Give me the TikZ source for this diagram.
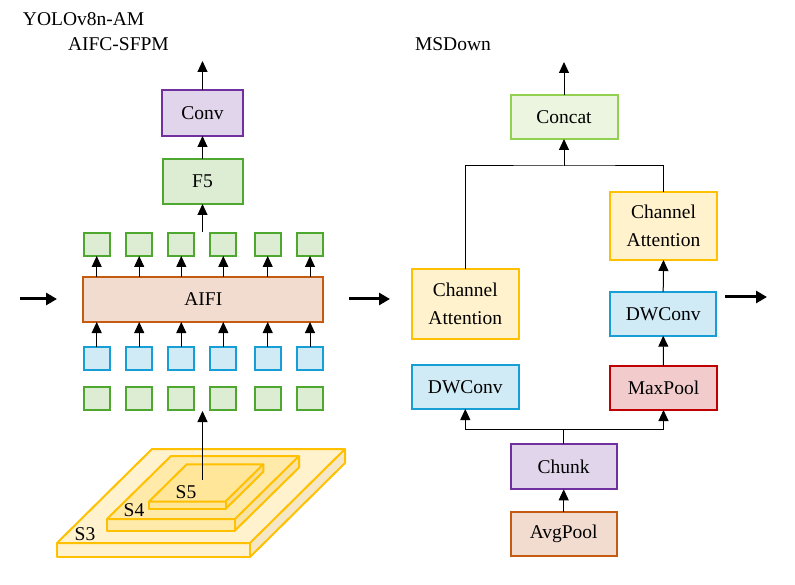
\documentclass[tikz,border=0pt]{standalone}
\usepackage{fontspec}
\setmainfont{Liberation Serif}
\usetikzlibrary{arrows.meta}
\definecolor{grnB}{HTML}{4EA72E}\definecolor{grnF}{HTML}{DCEDD4}
\definecolor{bluB}{HTML}{169FD7}\definecolor{bluF}{HTML}{D0EBF6}
\definecolor{orgB}{HTML}{C55A11}\definecolor{orgF}{HTML}{F2DCD0}
\definecolor{purB}{HTML}{7030A0}\definecolor{purF}{HTML}{E1D5EB}
\definecolor{yelB}{HTML}{FFC000}\definecolor{yelF}{HTML}{FFF2CC}
\definecolor{redB}{HTML}{C00000}\definecolor{redF}{HTML}{F2CCCC}
\definecolor{lgB}{HTML}{92D050}\definecolor{lgF}{HTML}{EBF5DF}
\definecolor{s3side}{HTML}{F5E7C6}
\definecolor{s4top}{HTML}{FFEAAA}\definecolor{s4side}{HTML}{F8E2A4}
\definecolor{s5top}{HTML}{FFE699}\definecolor{s5side}{HTML}{F8DE94}
\begin{document}
\begin{tikzpicture}[x=1pt,y=-1pt,
  every node/.style={font=\fontsize{19.5}{28}\selectfont, inner sep=0pt, outer sep=0pt},
  blk/.style={draw, line width=2pt, minimum width=106pt, minimum height=44pt, align=center},
  sqg/.style={draw=grnB, fill=grnF, line width=2pt, minimum width=26pt, minimum height=23pt},
  sqb/.style={draw=bluB, fill=bluF, line width=2pt, minimum width=26pt, minimum height=23pt},
  arr/.style={line width=1pt, -{Triangle[width=10pt,length=11pt]}},
  thk/.style={line width=3pt, -{Triangle[width=12pt,length=11pt]}},
  plate/.style={draw=yelB, line width=2pt, line join=round},
  lnk/.style={line width=1pt}]
\useasboundingbox (0,0) rectangle (795,585);
% titles
\node[anchor=west] (t1) at (23,19.5) {YOLOv8n-AM};
\node[anchor=west] (t2) at (68,44) {AIFC-SFPM};
\node[anchor=west] (t3) at (415,44) {MSDown};
% left column
\node[blk, draw=purB, fill=purF, minimum width=81pt, minimum height=46pt] (conv) at (202.5,113) {Conv};
\node[blk, draw=grnB, fill=grnF, minimum width=80pt, minimum height=45pt] (f5) at (202.5,181.5) {F5};
\node[blk, draw=orgB, fill=orgF, minimum width=240pt, minimum height=45pt] (aifi) at (203.3,299.5) {AIFI};
\foreach \i/\x in {1/96.7,2/139.2,3/181.3,4/223.3,5/267.7,6/310}{
  \node[sqg] (gt\i) at (\x,244.5) {};
  \node[sqb] (b\i) at (\x,358) {};
  \node[sqg] (gb\i) at (\x,398.5) {};
  \draw[arr] (aifi.north -| gt\i) -- (gt\i.south);
  \draw[arr] (b\i.north) -- (b\i.north |- aifi.south);
}
\coordinate (ctop1) at (202.5,61);
\coordinate (sqtop) at (202.5,232);
\draw[arr] (conv.north) -- (ctop1);
\draw[arr] (f5.north) -- (conv.south);
\draw[arr] (sqtop) -- (f5.south);
\coordinate (inA) at (20,299);\coordinate (inB) at (57,299);
\coordinate (outA) at (349,299);\coordinate (outB) at (390,299);
\draw[thk] (inA) -- (inB);
\draw[thk] (outA) -- (outB);
% stack
\fill[yelF] (57,543) -- (250,543) -- (345,449) -- (152,449) -- cycle;
\fill[yelF] (57,543) rectangle (250,557);
\fill[s3side] (250,543) -- (345,449) -- (345,463) -- (250,557) -- cycle;
\draw[plate] (57,543) -- (250,543) -- (345,449) -- (152,449) -- cycle;
\draw[plate] (57,543) -- (57,557) -- (250,557) -- (250,543);
\draw[plate] (250,557) -- (345,463) -- (345,449);
\fill[s4top] (107,519) -- (235,519) -- (299,456) -- (171,456) -- cycle;
\fill[s4top] (107,519) rectangle (235,530.5);
\fill[s4side] (235,519) -- (299,456) -- (299,467.5) -- (235,530.5) -- cycle;
\draw[plate] (107,519) -- (235,519) -- (299,456) -- (171,456) -- cycle;
\draw[plate] (107,519) -- (107,530.5) -- (235,530.5) -- (235,519);
\draw[plate] (235,530.5) -- (299,467.5) -- (299,456);
\fill[s5top] (149,501.5) -- (225.5,501.5) -- (263.3,464.3) -- (186.7,464.3) -- cycle;
\fill[s5top] (149,501.5) rectangle (225.5,509);
\fill[s5side] (225.5,501.5) -- (263.3,464.3) -- (263.3,471.8) -- (225.5,509) -- cycle;
\draw[plate] (149,501.5) -- (225.5,501.5) -- (263.3,464.3) -- (186.7,464.3) -- cycle;
\draw[plate] (149,501.5) -- (149,509) -- (225.5,509) -- (225.5,501.5);
\draw[plate] (225.5,509) -- (263.3,471.8) -- (263.3,464.3);
\node (s3) at (85,534) {S3};
\node (s4) at (134,510) {S4};
\node (s5) at (186,492.5) {S5};
\coordinate (stk) at (202.5,480);
\coordinate (sqbot) at (202.5,411);
\draw[arr] (stk) -- (sqbot);
% right column
\node[blk, draw=lgB, fill=lgF, minimum width=107pt, minimum height=44pt] (concat) at (564,117) {Concat};
\node[blk, draw=yelB, fill=yelF, minimum width=107pt, minimum height=70pt] (cal) at (465.3,304) {\raisebox{-2pt}{\parbox{100pt}{\centering Channel\\Attention}}};
\node[blk, draw=yelB, fill=yelF, minimum width=107pt, minimum height=68pt] (car) at (663.5,226) {\raisebox{-2pt}{\parbox{100pt}{\centering Channel\\Attention}}};
\node[blk, draw=bluB, fill=bluF, minimum width=106pt, minimum height=44pt] (dwr) at (663.2,313.7) {DWConv};
\node[blk, draw=redB, fill=redF, minimum width=107pt, minimum height=44pt] (mp) at (663.5,388) {MaxPool};
\node[blk, draw=bluB, fill=bluF, minimum width=107pt, minimum height=44pt] (dwl) at (465.3,387) {DWConv};
\node[blk, draw=purB, fill=purF, minimum width=106pt, minimum height=45pt] (chunk) at (563.7,466.8) {Chunk};
\node[blk, draw=orgB, fill=orgF, minimum width=106pt, minimum height=44pt] (avg) at (563.7,533.8) {AvgPool};
\coordinate (ctop2) at (564,62);
\coordinate (jt) at (564,166);
\coordinate (jb) at (563.7,429.3);
\draw[arr] (concat.north) -- (ctop2);
\draw[lnk] (cal.north) |- (jt) -| (car.north);
\draw[arr] (jt) -- (concat.south);
\draw[arr] (dwr.north) -- (car.south);
\draw[arr] (mp.north) -- (dwr.south);
\draw[lnk] (chunk.north) -- (jb);
\draw[arr] (jb) -| (dwl.south);
\draw[arr] (jb) -| (mp.south);
\draw[arr] (avg.north) -- (chunk.south);
\coordinate (out2A) at (725,297);\coordinate (out2B) at (767,297);
\draw[thk] (out2A) -- (out2B);
\end{tikzpicture}
\end{document}
